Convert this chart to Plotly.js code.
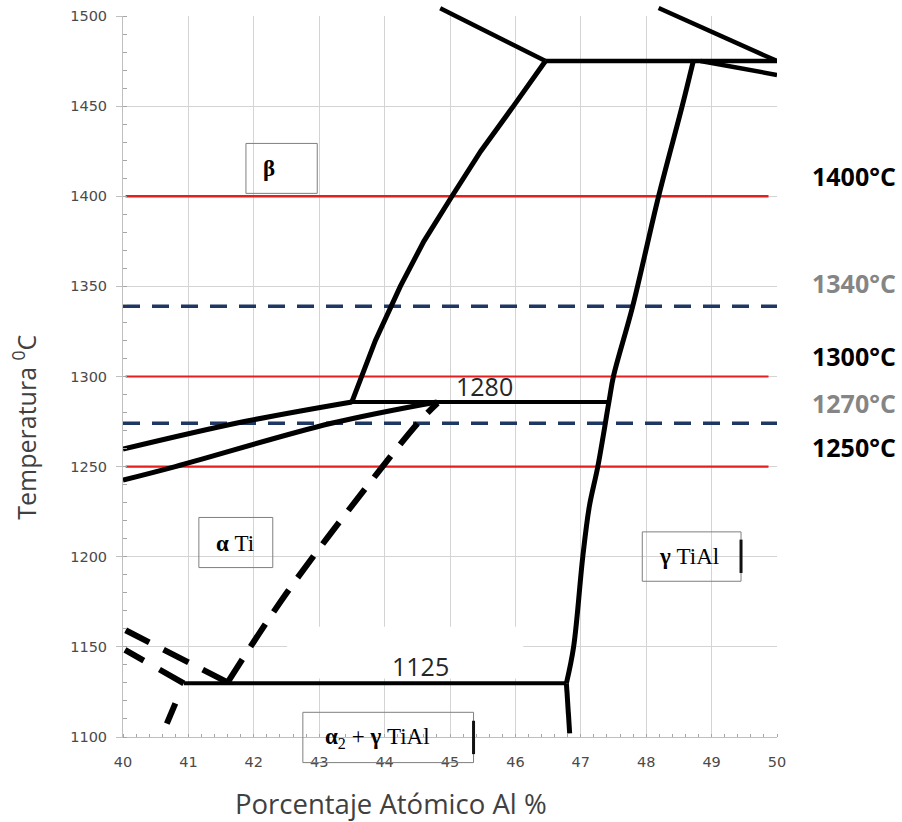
<!DOCTYPE html>
<html><head><meta charset="utf-8">
<script src="https://cdn.plot.ly/plotly-3.0.1.min.js"></script>
<style>html,body{margin:0;padding:0;background:#fff}#chart{width:902px;height:822px}</style>
</head><body><div id="chart"></div>
<script>
// ---- axes ----
const xTickVals = [40, 41, 42, 43, 44, 45, 46, 47, 48, 49, 50];
const xTickText = ['40', '41', '42', '43', '44', '45', '46', '47', '48', '49', '50'];
const yTickVals = [1100, 1150, 1200, 1250, 1300, 1350, 1400, 1450, 1500];
const yTickText = ['1100', '1150', '1200', '1250', '1300', '1350', '1400', '1450', '1500'];

// ---- solid phase boundaries (at.% Al, °C) ----
const betaX = [43.50, 43.65, 43.86, 44.24, 44.60, 45.03, 45.47, 45.97, 46.46];
const betaT = [1285.9, 1300.0, 1320.0, 1350.0, 1375.0, 1400.0, 1425.0, 1450.0, 1475.0];
const gammaX = [46.78, 46.89, 47.03, 47.13, 47.26, 47.43, 47.50, 47.79, 48.19, 48.55, 48.72];
const gammaT = [1129.8, 1150.0, 1199.9, 1227.8, 1250.0, 1285.9, 1300.2, 1338.5, 1400.1, 1450.0, 1475.0];
const gammaLowX = [46.83, 46.78];
const gammaLowT = [1102.0, 1129.8];
const peritecticX = [46.46, 50.0];
const peritecticT = [1475.0, 1475.0];
const topLeftX = [44.85, 46.46];
const topLeftT = [1504.3, 1475.0];
const topRightX = [48.19, 50.0];
const topRightT = [1504.4, 1475.0];
const rightLowX = [48.83, 50.0];
const rightLowT = [1475.0, 1467.3];
const line1280X = [43.50, 47.43];
const line1280T = [1285.9, 1285.9];
const alphaUpperX = [40.0, 41.8, 43.50];
const alphaUpperT = [1259.7, 1274.6, 1285.9];
const alphaLowerX = [40.0, 40.8, 43.17, 44.80];
const alphaLowerT = [1242.5, 1250.0, 1273.9, 1285.9];
const line1125X = [40.93, 46.78];
const line1125T = [1129.8, 1129.8];

// ---- dashed boundaries ----
const orderX = [41.60, 42.51, 43.89, 44.55, 44.81];
const orderT = [1130.3, 1180.3, 1246.4, 1275.8, 1285.3];
const dashAX = [41.60, 40.04];
const dashAT = [1130.3, 1159.2];
const dashBX = [40.93, 40.03];
const dashBT = [1129.8, 1148.3];
const dashCX = [40.67, 40.93];
const dashCT = [1107.4, 1129.8];

// ---- reference temperatures ----
const redLevels = [1400, 1300, 1250];
const redWidths = [2.6, 2.2, 2.2];
const redX = [40.04, 49.87];
const navyLevels = [1339, 1274];
const navyX = [40.0, 50.0];
const levelLabels = ['1400°C', '1340°C', '1300°C', '1270°C', '1250°C'];
const levelColors = ['#000000', '#858585', '#000000', '#858585', '#000000'];

function ln(x, y, w, color, dash, shape) {
  return {x: x, y: y, type: 'scatter', mode: 'lines', hoverinfo: 'skip',
    line: {width: w, color: color, dash: dash || 'solid', shape: shape || 'linear', smoothing: 1}};
}

const traces = [];
redLevels.forEach((t, i) => traces.push(ln(redX, redX.map(() => t), redWidths[i], '#e61e1e')));
navyLevels.forEach(t => traces.push(ln(navyX, navyX.map(() => t), 3.5, '#1f3763', '17px,12px')));
const K = '#000000';
traces.push(ln(betaX, betaT, 5, K));
traces.push(ln(gammaX, gammaT, 5, K, 'solid', 'spline'));
traces.push(ln(gammaLowX, gammaLowT, 5, K));
traces.push(ln(peritecticX, peritecticT, 4.5, K));
traces.push(ln(rightLowX, rightLowT, 4.5, K));
traces.push(ln(line1280X, line1280T, 4, K));
traces.push(ln(alphaUpperX, alphaUpperT, 5, K, 'solid', 'spline'));
traces.push(ln(alphaLowerX, alphaLowerT, 5, K, 'solid', 'spline'));
traces.push(ln(line1125X, line1125T, 4, K));
traces.push(ln(orderX, orderT, 6, K, '27px,15px', 'spline'));
traces.push(ln(dashAX, dashAT, 6, K, '28px,16px'));
traces.push(ln(dashBX, dashBT, 6, K, '28px,18px'));
traces.push(ln(dashCX, dashCT, 6, K, '22px,30px'));

const yMin = 1100, yMax = 1500, xMin = 40, xMax = 50;
const py = t => (t - yMin) / (yMax - yMin);
const px = v => (v - xMin) / (xMax - xMin);

const boxes = [
  {x0: 41.88, x1: 42.97, t0: 1401.6, t1: 1429.3},
  {x0: 41.16, x1: 42.29, t0: 1194.0, t1: 1221.8},
  {x0: 47.94, x1: 49.45, t0: 1186.4, t1: 1213.8},
  {x0: 42.75, x1: 45.36, t0: 1085.8, t1: 1113.7}
];
const shapes = boxes.map(b => ({type: 'rect', xref: 'x', yref: 'paper', x0: b.x0, x1: b.x1,
  y0: py(b.t0), y1: py(b.t1), line: {color: '#7f7f7f', width: 1}, fillcolor: 'rgba(0,0,0,0)'}));
shapes.push({type: 'line', xref: 'x', yref: 'paper', x0: 49.45, x1: 49.45, y0: py(1191), y1: py(1209.5), line: {color: '#111', width: 3}});
shapes.push({type: 'line', xref: 'x', yref: 'paper', x0: 45.36, x1: 45.36, y0: py(1090.5), y1: py(1109), line: {color: '#111', width: 3}});
shapes.push({type: 'rect', xref: 'x', yref: 'y', x0: 42.51, x1: 46.12, y0: 1132.5, y1: 1161.2, line: {width: 0}, fillcolor: '#ffffff', layer: 'above'});
// boundary segments that run slightly above the top of the frame
[[topLeftX, topLeftT], [topRightX, topRightT]].forEach(([xs, ts]) => shapes.push({type: 'line', xref: 'x', yref: 'paper',
  x0: xs[0], x1: xs[1], y0: py(ts[0]), y1: py(ts[1]), line: {color: K, width: 4.5}}));

const serif = {family: 'Liberation Serif, Times New Roman, serif', size: 23, color: '#000'};
const annotations = [
  {x: 45.53, y: 1294.6, text: '1280', font: {family: 'Open Sans', size: 25, color: '#262626'}},
  {x: 44.55, y: 1139.2, text: '1125', font: {family: 'Open Sans', size: 25, color: '#262626'}},
  {x: 42.23, y: 1415.5, text: '<b>β</b>', font: serif},
  {x: 41.72, y: 1207.5, text: '<b>α</b> Ti', font: serif},
  {x: 48.66, y: 1200.0, text: '<b>γ</b> TiAl', font: serif},
  {x: 43.89, y: 1099.4, text: '<b>α</b><sub>2</sub> + <b>γ</b> TiAl', font: serif}
];
const labelY = [1411.2, 1351.8, 1311.3, 1285.2, 1260.8];
levelLabels.forEach((s, i) => annotations.push({x: 51.18, y: labelY[i], text: '<b>' + s + '</b>',
  font: {family: 'Open Sans', size: 25, color: levelColors[i]}}));
annotations.forEach(a => { a.xref = 'paper'; a.yref = 'paper'; a.x = px(a.x); a.y = py(a.y); a.showarrow = false; a.xanchor = 'center'; a.yanchor = 'middle'; });
annotations.push({xref: 'paper', yref: 'paper', x: (25 - 123) / 654, y: py(1271.6), text: 'Temperatura <sup>0</sup>C',
  textangle: -90, showarrow: false, xanchor: 'center', yanchor: 'middle', font: {family: 'Open Sans', size: 25, color: '#404040'}});
annotations.push({xref: 'paper', yref: 'paper', x: (391 - 123) / 654, y: -(803 - 736.7) / 720.7, text: 'Porcentaje Atómico Al %',
  showarrow: false, xanchor: 'center', yanchor: 'middle', font: {family: 'Open Sans', size: 27.5, color: '#404040'}});

const tickFont = {family: 'DejaVu Sans', size: 14.5, color: '#4a4a4a'};
const layout = {
  width: 902, height: 822, margin: {l: 123, r: 125, t: 16, b: 85, pad: 0},
  paper_bgcolor: '#ffffff', plot_bgcolor: '#ffffff', showlegend: false,
  xaxis: {range: [xMin, xMax], tickmode: 'array', tickvals: xTickVals, ticktext: xTickText, showgrid: true, gridcolor: '#d4d4d4', gridwidth: 1,
    showline: true, linecolor: '#bfbfbf', linewidth: 1, ticks: '', ticklabelstandoff: 12, tickfont: tickFont, zeroline: false, fixedrange: true,
    minor: {tickmode: 'linear', tick0: 40, dtick: 0.2, ticks: 'inside', ticklen: 3, tickcolor: '#a6a6a6', showgrid: false}},
  yaxis: {range: [yMin, yMax], tickmode: 'array', tickvals: yTickVals, ticktext: yTickText, showgrid: true, gridcolor: '#d4d4d4', gridwidth: 1,
    showline: true, linecolor: '#bfbfbf', linewidth: 1, ticks: 'outside', ticklen: 6, tickcolor: '#bfbfbf', ticklabelstandoff: 6, tickfont: tickFont,
    zeroline: false, fixedrange: true,
    minor: {tickmode: 'linear', tick0: 1100, dtick: 10, ticks: 'inside', ticklen: 4, tickcolor: '#a6a6a6', showgrid: false}},
  shapes: shapes, annotations: annotations
};
Plotly.newPlot('chart', traces, layout, {displayModeBar: false, staticPlot: true});
</script></body></html>
